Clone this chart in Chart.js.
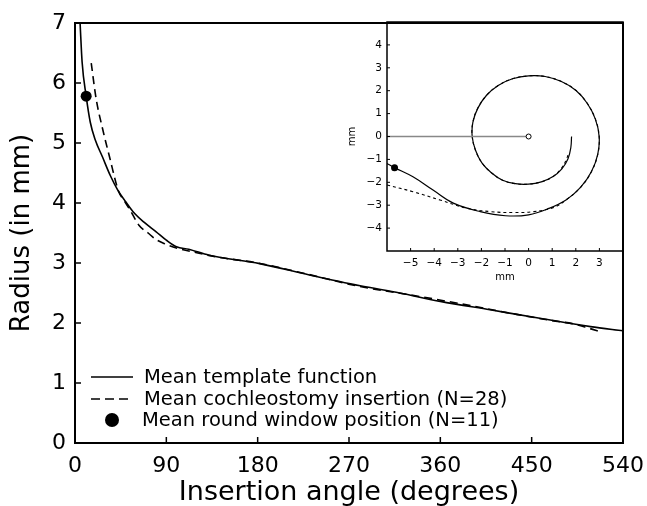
<!DOCTYPE html>
<html>
<head>
<meta charset="utf-8">
<script src="https://cdn.jsdelivr.net/npm/chart.js@4.4.1/dist/chart.umd.min.js"></script>
<style>
  html, body { margin: 0; padding: 0; background: #fff; }
  #wrap { position: relative; width: 647px; height: 506px; }
  #main { position: absolute; left: 0; top: 0; }
  #inset { position: absolute; left: 340px; top: 10px; }
</style>
</head>
<body>
<div id="wrap">
  <canvas id="main" width="647" height="506"></canvas>
  <canvas id="inset" width="290" height="280"></canvas>
</div>
<script>
// ── Data ──────────────────────────────────────────────────────
const angleTemplate  = [5, 7, 11, 15, 20, 27, 35, 42, 50, 57, 68, 80, 90, 100, 112, 132, 182, 231, 281, 320, 360, 409, 458, 508, 540];
const radiusTemplate = [7.0, 6.35, 5.78, 5.35, 5.05, 4.77, 4.45, 4.22, 4.02, 3.86, 3.68, 3.52, 3.38, 3.27, 3.23, 3.13, 2.99, 2.8, 2.62, 2.5, 2.36, 2.22, 2.08, 1.94, 1.87];

const angleCochleo  = [16, 21, 27, 34, 43, 48, 55, 63, 72, 80, 90, 96, 120, 140, 180, 230, 280, 330, 380, 430, 470, 490, 505, 518];
const radiusCochleo = [6.33, 5.72, 5.25, 4.77, 4.19, 4.05, 3.86, 3.63, 3.5, 3.39, 3.31, 3.27, 3.17, 3.1, 3.0, 2.81, 2.61, 2.47, 2.32, 2.16, 2.04, 1.99, 1.92, 1.85];

const angleRoundWindow  = [11];
const radiusRoundWindow = [5.78];

// inset spiral (mm)
const spiralTemplateX = [-6.0, -5.68, -4.9, -4.05, -3.19, -2.05, -0.98, 0.0, 0.86, 1.6, 2.21, 2.66, 2.93, 2.99, 2.83, 2.49, 2.01, 1.39, 0.70, 0.0, -0.68, -1.29, -1.79, -2.15, -2.36, -2.39, -2.25, -1.98, -1.58, -1.10, -0.56, 0.0, 0.54, 1.02, 1.41, 1.67, 1.79, 1.82];
const spiralTemplateY = [-1.18, -1.36, -1.76, -2.34, -2.91, -3.28, -3.46, -3.42, -3.14, -2.76, -2.21, -1.54, -0.78, 0.0, 0.76, 1.44, 2.01, 2.40, 2.62, 2.65, 2.52, 2.23, 1.79, 1.24, 0.63, 0.0, -0.60, -1.15, -1.58, -1.91, -2.06, -2.08, -1.98, -1.76, -1.41, -0.97, -0.48, 0.0];

const spiralCochleoX = [-6.0, -4.9, -3.76, -2.62, -1.62, -0.63, 0.23, 1.08, 1.6, 2.21, 2.66, 2.93, 2.99, 2.83, 2.49, 2.01, 1.39, 0.70, 0.0, -0.68, -1.29, -1.79, -2.15, -2.36, -2.39, -2.25, -1.98, -1.58, -1.10, -0.56, 0.0, 0.54, 1.02, 1.39, 1.62, 1.70];
const spiralCochleoY = [-2.12, -2.41, -2.77, -3.13, -3.28, -3.32, -3.28, -3.09, -2.76, -2.21, -1.54, -0.78, 0.0, 0.76, 1.44, 2.01, 2.40, 2.62, 2.65, 2.52, 2.23, 1.79, 1.24, 0.63, 0.0, -0.60, -1.15, -1.58, -1.91, -2.06, -2.08, -1.98, -1.76, -1.39, -0.95, -0.68];

const spiralRoundWindowX = [-5.68];
const spiralRoundWindowY = [-1.36];

const refLineX = [-6, 0];
const refLineY = [0, 0];

const legendLabels = [
  'Mean template function',
  'Mean cochleostomy insertion (N=28)',
  'Mean round window position (N=11)'
];
const xTitle = 'Insertion angle (degrees)';
const yTitle = 'Radius (in mm)';
const insetTitle = 'mm';

const FONT = 'DejaVu Sans';
const pts = (xs, ys) => xs.map((x, i) => ({ x: x, y: ys[i] }));

// ── Plugins ───────────────────────────────────────────────────
const frame = {
  id: 'frame',
  afterDatasetsDraw(chart, args, opts) {
    const { ctx, chartArea: a } = chart;
    ctx.save();
    ctx.strokeStyle = '#000';
    ctx.lineWidth = opts.width;
    ctx.strokeRect(a.left, a.top, a.right - a.left, a.bottom - a.top);
    ctx.restore();
  }
};

// tick marks pointing into the plot
const innerTicks = {
  id: 'innerTicks',
  afterDatasetsDraw(chart, args, opts) {
    const { ctx, chartArea: a, scales } = chart;
    const sx = scales.x, sy = scales.y;
    ctx.save();
    ctx.strokeStyle = '#000';
    ctx.lineWidth = opts.width;
    ctx.beginPath();
    sx.ticks.forEach(t => {
      if (t.value <= sx.min || t.value >= sx.max) return;
      const px = sx.getPixelForValue(t.value);
      ctx.moveTo(px, a.bottom);
      ctx.lineTo(px, a.bottom - opts.len);
    });
    sy.ticks.forEach(t => {
      if (t.value <= sy.min || t.value >= sy.max) return;
      const py = sy.getPixelForValue(t.value);
      ctx.moveTo(a.left, py);
      ctx.lineTo(a.left + opts.len, py);
    });
    ctx.stroke();
    ctx.restore();
  }
};

// legend drawn inside the plot, bottom left
const boxLegend = {
  id: 'boxLegend',
  afterDraw(chart) {
    const { ctx, chartArea: a } = chart;
    const x0 = a.left + 16, x1 = a.left + 58, tx = a.left + 69;
    const rows = [a.bottom - 66, a.bottom - 44, a.bottom - 23];
    ctx.save();
    ctx.strokeStyle = '#000';
    ctx.fillStyle = '#000';
    ctx.lineWidth = 1.6;

    ctx.beginPath();
    ctx.moveTo(x0, rows[0]); ctx.lineTo(x1, rows[0]);
    ctx.stroke();

    ctx.setLineDash([9, 5]);
    ctx.beginPath();
    ctx.moveTo(x0, rows[1]); ctx.lineTo(x1 - 3, rows[1]);
    ctx.stroke();
    ctx.setLineDash([]);

    ctx.beginPath();
    ctx.arc((x0 + x1) / 2, rows[2], 7, 0, Math.PI * 2);
    ctx.fill();

    ctx.font = '19.5px "' + FONT + '"';
    ctx.textBaseline = 'middle';
    ctx.textAlign = 'left';
    legendLabels.forEach((t, i) => ctx.fillText(t, tx - (i === 2 ? 2 : 0), rows[i] + 1));
    ctx.restore();
  }
};

// keep the plot box where the picture has it
const fixX = h => s => { s.height = h; s.paddingLeft = 0; s.paddingRight = 0; };
const fixY = w => s => { s.width = w; s.paddingTop = 0; s.paddingBottom = 0; };

// ── Main chart ────────────────────────────────────────────────
new Chart(document.getElementById('main'), {
  type: 'scatter',
  data: {
    datasets: [
      {
        label: legendLabels[2],
        data: pts(angleRoundWindow, radiusRoundWindow),
        pointRadius: 5.5,
        pointBackgroundColor: '#000',
        pointBorderWidth: 0,
        order: 0
      },
      {
        label: legendLabels[0],
        data: pts(angleTemplate, radiusTemplate),
        showLine: true,
        borderColor: '#000',
        borderWidth: 1.6,
        pointRadius: 0,
        cubicInterpolationMode: 'monotone',
        order: 1
      },
      {
        label: legendLabels[1],
        data: pts(angleCochleo, radiusCochleo),
        showLine: true,
        borderColor: '#000',
        borderWidth: 1.6,
        borderDash: [8, 5],
        pointRadius: 0,
        cubicInterpolationMode: 'monotone',
        order: 2
      }
    ]
  },
  options: {
    responsive: false,
    animation: false,
    layout: { padding: { left: 0, right: 24, top: 23, bottom: 0 } },
    plugins: {
      legend: { display: false },
      tooltip: { enabled: false },
      frame: { width: 2 },
      innerTicks: { len: 6, width: 1.5 }
    },
    scales: {
      x: {
        type: 'linear', min: 0, max: 540,
        afterFit: fixX(63),
        grid: { display: false, drawTicks: false },
        border: { display: false },
        ticks: { stepSize: 90, padding: 10, color: '#000', autoSkip: false, maxRotation: 0, font: { family: FONT, size: 22 } },
        title: { display: true, text: xTitle, color: '#000', font: { family: FONT, size: 27, lineHeight: 1 }, padding: { top: 0, bottom: 0 } }
      },
      y: {
        type: 'linear', min: 0, max: 7,
        afterFit: fixY(75),
        grid: { display: false, drawTicks: false },
        border: { display: false },
        ticks: { stepSize: 1, padding: 9, color: '#000', font: { family: FONT, size: 22 } },
        title: { display: true, text: yTitle, color: '#000', font: { family: FONT, size: 26, lineHeight: 1 }, padding: { top: 9, bottom: 0 } }
      }
    }
  },
  plugins: [frame, innerTicks, boxLegend]
});

// ── Inset spiral ──────────────────────────────────────────────
const minusFmt = v => (v < 0 ? '\u2212' + Math.abs(v) : String(v));

new Chart(document.getElementById('inset'), {
  type: 'scatter',
  data: {
    datasets: [
      {
        data: pts(spiralRoundWindowX, spiralRoundWindowY),
        pointRadius: 3.5,
        pointBackgroundColor: '#000',
        pointBorderWidth: 0,
        order: 0
      },
      {
        data: pts(refLineX, refLineY),
        showLine: true,
        borderColor: '#888',
        borderWidth: 1.3,
        pointRadius: [0, 2.5],
        pointBackgroundColor: '#fff',
        pointBorderColor: '#000',
        pointBorderWidth: 1,
        order: 1
      },
      {
        data: pts(spiralTemplateX, spiralTemplateY),
        showLine: true,
        borderColor: '#000',
        borderWidth: 1.2,
        pointRadius: 0,
        tension: 0.4,
        order: 2
      },
      {
        data: pts(spiralCochleoX, spiralCochleoY),
        showLine: true,
        borderColor: '#000',
        borderWidth: 1.1,
        borderDash: [3, 3],
        pointRadius: 0,
        tension: 0.4,
        order: 3
      }
    ]
  },
  options: {
    responsive: false,
    animation: false,
    layout: { padding: { left: 0, right: 7, top: 12, bottom: 0 } },
    plugins: {
      legend: { display: false },
      tooltip: { enabled: false },
      frame: { width: 1.5 },
      innerTicks: { len: 3, width: 1 }
    },
    scales: {
      x: {
        type: 'linear', min: -6, max: 4,
        afterFit: fixX(39),
        grid: { display: false, drawTicks: false },
        border: { display: false },
        ticks: {
          stepSize: 1, padding: 6, color: '#000', autoSkip: false, maxRotation: 0,
          font: { family: FONT, size: 10.5 },
          callback: v => (v <= -6 || v >= 4) ? '' : minusFmt(v)
        },
        title: { display: true, text: insetTitle, color: '#000', font: { family: FONT, size: 10, lineHeight: 1 }, padding: { top: 0, bottom: 8 } }
      },
      y: {
        type: 'linear', min: -5, max: 5,
        afterFit: fixY(47),
        grid: { display: false, drawTicks: false },
        border: { display: false },
        ticks: {
          stepSize: 1, padding: 5, color: '#000', autoSkip: false,
          font: { family: FONT, size: 10.5 },
          callback: v => Math.abs(v) >= 5 ? '' : minusFmt(v)
        },
        title: { display: true, text: insetTitle, color: '#000', font: { family: FONT, size: 10, lineHeight: 1 }, padding: { top: 7, bottom: 0 } }
      }
    }
  },
  plugins: [frame, innerTicks]
});
</script>
</body>
</html>
